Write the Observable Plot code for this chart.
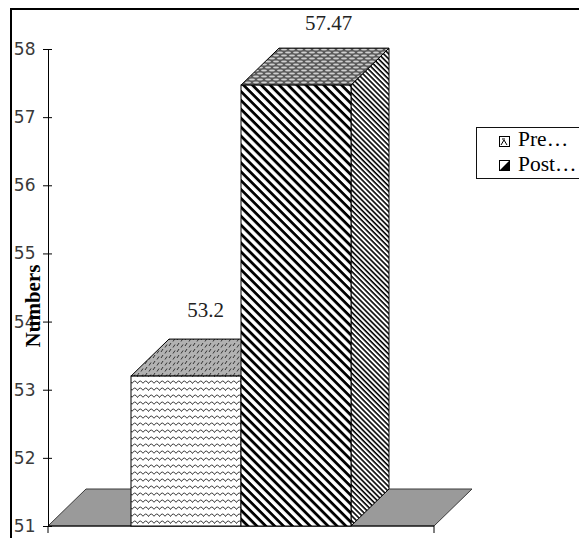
<!DOCTYPE html>
<html><head><meta charset="utf-8">
<script src="https://cdn.jsdelivr.net/npm/d3@7"></script>
<script src="https://cdn.jsdelivr.net/npm/@observablehq/plot@0.6"></script>
<style>
body{margin:0;overflow:hidden;background:#fff}
#wrap{position:relative;width:579px;height:538px;overflow:hidden;background:#fff}
#wrap svg.plot{position:absolute;left:0;top:0}
.bt{position:absolute;left:10px;top:8px;width:569px;height:2px;background:#000}
.bl{position:absolute;left:10px;top:8px;width:2px;height:530px;background:#000}
#legend{position:absolute;left:476px;top:127px;width:130px;height:50px;border:1px solid #111;background:#fff;font-family:"Liberation Serif",serif;font-size:21.5px;color:#000}
#legend .row{position:absolute;left:41px;height:25px;line-height:25px;white-space:nowrap}
#legend svg{position:absolute;left:22px}
</style></head><body><div id="wrap"></div>
<script>
// ---- data ----
const series = ["Pre", "Post"];
const values = [53.2, 57.47];
const valueLabels = ["53.2", "57.47"];
const legendLabels = ["Pre…", "Post…"];
const yTicks = [51, 52, 53, 54, 55, 56, 57, 58];
const yTitle = "Numbers";

const yMin = yTicks[0], yMax = yTicks[yTicks.length - 1];
const data = series.map((s, i) => ({series: s, value: values[i], label: valueLabels[i]}));

// ---- styles ----
const DX = 38, DY = -37;
const fronts = {Pre: "url(#preFront)", Post: "url(#postFront)"};
const tops = {Pre: "url(#preTop)", Post: "url(#postTop)"};
const sides = {Pre: "url(#postSide)", Post: "url(#postSide)"};

function poly(g, pts, fill, stroke) {
  g.append("polygon")
    .attr("points", pts.map(p => p.join(",")).join(" "))
    .attr("fill", fill).attr("stroke", stroke || "#000").attr("stroke-width", 1);
}

function floorRender(index, scales) {
  const [x0, x1] = scales.x.range();
  const y0 = scales.y(yMin);
  const g = d3.create("svg:g");
  poly(g, [[x0, y0], [x1, y0], [x1 + DX, y0 + DY], [x0 + DX, y0 + DY]], "#9a9a9a", "#3a3a3a");
  g.append("path").attr("d", `M${x0},${y0}H${x1}M${x0},${y0}v7M${x1},${y0}v7`)
    .attr("stroke", "#000").attr("fill", "none");
  return g.node();
}

function barsRender(index, scales) {
  const g = d3.create("svg:g");
  const w = scales.x.bandwidth();
  const yB = scales.y(yMin);
  for (const i of index) {
    const d = data[i];
    const x0 = scales.x(d.series), x1 = x0 + w, yT = scales.y(d.value);
    poly(g, [[x1, yT], [x1 + DX, yT + DY], [x1 + DX, yB + DY], [x1, yB]], sides[d.series]);
    poly(g, [[x0, yT], [x1, yT], [x1 + DX, yT + DY], [x0 + DX, yT + DY]], tops[d.series]);
    g.append("rect").attr("x", x0).attr("y", yT).attr("width", w).attr("height", yB - yT)
      .attr("fill", fronts[d.series]).attr("stroke", "#000");
  }
  return g.node();
}

const plot = Plot.plot({
  width: 579, height: 538,
  marginLeft: 48, marginRight: 145, marginTop: 49, marginBottom: 12,
  x: {type: "band", domain: series, paddingInner: 0, paddingOuter: 0.74, axis: null},
  y: {domain: [yMin, yMax], axis: null},
  style: {fontFamily: "DejaVu Sans", fontSize: "17px", color: "#000", background: "transparent", overflow: "visible"},
  marks: [
    Plot.dot([yMin], {y: d => d, render: floorRender}),
    Plot.dot(data, {x: "series", y: "value", render: barsRender}),
    Plot.frame({anchor: "left", stroke: "#000"}),
    Plot.axisY({ticks: yTicks, tickFormat: d => String(d), tickSize: 9, tickPadding: 8, dx: 4,
      stroke: "#000", fill: "#3a3a3a", fontSize: 17, label: null}),
    Plot.text(data.filter(d => d.series === "Pre"), {x: "series", y: "value", text: "label",
      dx: 19, dy: -66, fontFamily: "Liberation Serif", fontSize: 21, fill: "#222"}),
    Plot.text(data.filter(d => d.series === "Post"), {x: "series", y: "value", text: "label",
      dx: 32, dy: -62, fontFamily: "Liberation Serif", fontSize: 21, fill: "#222"}),
    Plot.text([yTitle], {frameAnchor: "left", dx: -15, dy: 18, rotate: -90, textAnchor: "middle",
      lineAnchor: "middle", fontWeight: "bold", fontFamily: "Liberation Serif", fontSize: 21, fill: "#000"})
  ]
});
plot.classList.add("plot");
d3.select(plot).insert("defs", ":first-child").html(`
  <pattern id="preFront" patternUnits="userSpaceOnUse" width="11" height="7">
    <rect width="11" height="7" fill="#fff"/>
    <path d="M0,5.5 Q2.75,0.5 5.5,5.5 Q8.25,0.5 11,5.5" fill="none" stroke="#222" stroke-width="0.9"/>
  </pattern>
  <pattern id="preTop" patternUnits="userSpaceOnUse" width="8" height="6">
    <rect width="8" height="6" fill="#b2b2b2"/>
    <path d="M1,4 L3,1 M5,5.5 L7,2.5" stroke="#333" stroke-width="1"/>
  </pattern>
  <pattern id="postFront" patternUnits="userSpaceOnUse" width="6.3" height="6.3" patternTransform="rotate(45)">
    <rect width="6.3" height="6.3" fill="#fff"/>
    <rect width="6.3" height="2.8" fill="#000"/>
  </pattern>
  <pattern id="postSide" patternUnits="userSpaceOnUse" width="3.6" height="3.6" patternTransform="rotate(45)">
    <rect width="3.6" height="3.6" fill="#fff"/>
    <rect width="3.6" height="1.6" fill="#000"/>
  </pattern>
  <pattern id="postTop" patternUnits="userSpaceOnUse" width="8" height="6">
    <rect width="8" height="6" fill="#5a5a5a"/>
    <ellipse cx="4" cy="1.5" rx="3" ry="1" fill="#cfcfcf"/>
    <ellipse cx="0" cy="4.5" rx="3" ry="1" fill="#cfcfcf"/>
    <ellipse cx="8" cy="4.5" rx="3" ry="1" fill="#cfcfcf"/>
  </pattern>
`);

const wrap = document.getElementById("wrap");
wrap.appendChild(plot);
const bt = document.createElement("div"); bt.className = "bt"; wrap.appendChild(bt);
const bl = document.createElement("div"); bl.className = "bl"; wrap.appendChild(bl);

// legend
const legend = document.createElement("div");
legend.id = "legend";
series.forEach((s, i) => {
  const row = document.createElement("div");
  row.className = "row";
  row.style.top = (i * 25 - 1) + "px";
  row.textContent = legendLabels[i];
  legend.appendChild(row);
  const sw = d3.create("svg").attr("width", 11).attr("height", 11).style("top", (8 + i * 24) + "px");
  sw.append("rect").attr("x", 0.5).attr("y", 0.5).attr("width", 10).attr("height", 10)
    .attr("fill", "#fff").attr("stroke", "#000");
  if (s === "Post") sw.append("polygon").attr("points", "10.5,0.5 10.5,10.5 0.5,10.5").attr("fill", "#000");
  else sw.append("path").attr("d", "M2,9 L5,4 L8,9 M3,3 h3").attr("stroke", "#000").attr("fill", "none");
  legend.appendChild(sw.node());
});
wrap.appendChild(legend);
</script>
</body></html>
